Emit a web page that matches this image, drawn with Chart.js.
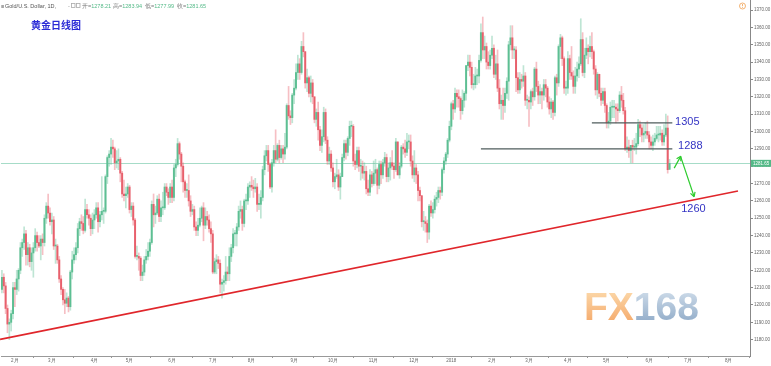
<!DOCTYPE html>
<html>
<head>
<meta charset="utf-8">
<script src="https://cdn.jsdelivr.net/npm/chart.js@4.4.1/dist/chart.umd.min.js"></script>
<style>
  html, body { margin: 0; padding: 0; background: #fff; }
</style>
</head>
<body>
<canvas id="chart" width="771" height="366"></canvas>
<script>
// Daily gold candles, 2017-01-23 .. 2018-06-18 (one row per month)
const opens = [
  1209,1216,1211,1198,1189,1190,1195,
  1210,1209,1215,1220,1233,1236,1241,1229,1233,1225,1230,1233,1240,1236,1234,1238,1236,1250,1257,1253,
  1248,1249,1234,1234,1226,1215,1209,1203,1201,1204,1199,1219,1226,1229,1233,1244,1248,1247,1243,1255,1252,1250,1244,
  1249,1252,1256,1248,1252,1254,1254,1274,1285,1287,1291,1290,1282,1283,1284,1276,1264,1263,1264,
  1268,1255,1257,1249,1228,1228,1227,1217,1219,1226,1228,1231,1236,1258,1252,1253,1261,1251,1256,1256,1268,1265,1262,
  1268,1262,1279,1281,1293,1287,1280,1271,1266,1266,1260,1254,1255,1245,1243,1246,1250,1256,1246,1251,1249,1244,
  1241,1219,1225,1226,1224,1212,1213,1214,1219,1218,1228,1233,1241,1241,1245,1254,1255,1247,1260,1260,1268,
  1269,1268,1267,1268,1258,1258,1262,1278,1286,1289,1281,1268,1282,1289,1284,1292,1285,1290,1287,1291,1315,1309,1308,
  1321,1325,1334,1339,1334,1349,1346,1328,1331,1322,1328,1320,1307,1311,1301,1292,1297,1311,1295,1283,1287,
  1279,1271,1274,1275,1268,1274,1285,1293,1288,1296,1303,1303,1283,1281,1289,1280,1280,1276,1277,1267,1265,1275,
  1270,1276,1278,1269,1281,1275,1282,1285,1274,1279,1282,1280,1278,1294,1275,1280,1291,1290,1288,1294,1294,1283,
  1275,1279,1275,1266,1263,1248,1248,1247,1242,1257,1253,1255,1261,1262,1266,1265,1278,1283,1287,1295,
  1303,1316,1313,1322,1320,1319,1312,1318,1322,1338,1340,1337,1327,1327,1332,1332,1341,1357,1347,1349,1340,1338,
  1344,1348,1333,1339,1325,1316,1318,1315,1322,1329,1350,1354,1347,1347,1331,1324,1330,1329,1332,1318,
  1318,1317,1323,1320,1336,1326,1321,1323,1321,1327,1325,1317,1313,1317,1311,1331,1328,1349,1354,1342,1325,
  1325,1342,1334,1332,1326,1332,1336,1339,1353,1334,1344,1348,1346,1349,1346,1336,1324,1333,1322,1318,1323,
  1315,1305,1306,1314,1314,1314,1313,1312,1321,1318,1312,1290,1291,1289,1292,1291,1291,1293,1304,1302,1298,1299,1300,
  1298,1294,1292,1294,1296,1298,1298,1299,1294,1298,1302,1278.21
];
const highs = [
  1220,1218,1213,1200,1192,1197,1213,
  1213,1220,1221,1236,1238,1245,1243,1236,1235,1233,1236,1244,1242,1240,1240,1241,1252,1259,1264,1256,
  1253,1251,1238,1235,1228,1217,1210,1209,1207,1205,1220,1231,1233,1236,1247,1250,1252,1251,1261,1258,1255,1252,1253,
  1255,1259,1259,1254,1274,1256,1275,1286,1289,1296,1295,1291,1289,1290,1285,1277,1272,1268,1270,
  1269,1259,1259,1250,1234,1230,1228,1223,1228,1232,1236,1238,1260,1264,1257,1263,1264,1260,1265,1270,1270,1267,1270,
  1272,1281,1284,1296,1294,1288,1282,1272,1270,1275,1263,1258,1257,1248,1250,1256,1257,1259,1256,1254,1252,1248,
  1243,1227,1229,1228,1226,1215,1217,1228,1222,1233,1235,1244,1243,1247,1257,1260,1257,1261,1264,1270,1271,
  1274,1272,1273,1270,1264,1266,1280,1289,1292,1292,1282,1284,1292,1301,1293,1295,1292,1292,1299,1316,1326,1312,1322,
  1330,1339,1344,1342,1352,1357,1346,1336,1332,1332,1330,1320,1313,1317,1303,1301,1314,1313,1297,1291,1289,
  1282,1276,1284,1278,1276,1287,1295,1295,1297,1306,1306,1304,1287,1291,1291,1284,1283,1282,1280,1272,1278,1277,
  1283,1284,1279,1283,1283,1284,1288,1287,1282,1285,1289,1282,1296,1294,1282,1292,1293,1295,1299,1298,1298,1286,
  1289,1281,1277,1268,1263,1254,1251,1249,1258,1260,1259,1263,1265,1268,1268,1279,1285,1288,1296,1306,
  1317,1318,1325,1324,1324,1320,1324,1323,1338,1344,1344,1340,1333,1337,1336,1344,1362,1366,1355,1351,1346,1347,
  1355,1350,1344,1347,1330,1321,1325,1325,1331,1352,1361,1361,1349,1349,1334,1334,1333,1338,1334,1321,
  1320,1324,1325,1337,1340,1329,1327,1325,1330,1330,1326,1320,1319,1318,1332,1333,1350,1356,1355,1343,1329,
  1346,1344,1349,1335,1337,1340,1343,1365,1357,1348,1354,1350,1355,1357,1347,1338,1334,1333,1325,1325,1325,
  1316,1311,1317,1318,1318,1316,1316,1323,1326,1322,1314,1297,1295,1292,1295,1296,1299,1307,1306,1304,1304,1305,1306,
  1300,1297,1298,1299,1303,1303,1303,1301,1304,1310,1309,1283.94
];
const lows = [
  1207,1207,1195,1184,1180,1185,1192,
  1199,1206,1208,1218,1228,1232,1223,1223,1222,1220,1216,1231,1231,1233,1226,1229,1234,1247,1250,1246,
  1241,1232,1224,1224,1213,1206,1200,1195,1199,1196,1197,1215,1224,1226,1230,1240,1243,1241,1242,1250,1246,1240,1241,
  1244,1250,1242,1245,1249,1247,1253,1270,1280,1281,1285,1278,1279,1278,1271,1262,1260,1256,1262,
  1253,1251,1246,1227,1226,1220,1214,1214,1217,1224,1226,1228,1235,1245,1247,1252,1248,1248,1252,1255,1263,1258,1259,
  1259,1260,1274,1280,1284,1271,1265,1262,1262,1257,1251,1252,1243,1240,1240,1245,1248,1237,1244,1246,1242,1236,
  1218,1218,1218,1221,1207,1204,1208,1212,1214,1214,1225,1230,1234,1234,1243,1250,1243,1245,1255,1258,1262,
  1266,1262,1265,1254,1255,1250,1260,1275,1283,1277,1267,1265,1280,1282,1283,1282,1284,1282,1284,1290,1307,1304,1305,
  1316,1324,1330,1330,1333,1343,1325,1323,1320,1317,1316,1305,1303,1295,1289,1288,1294,1293,1281,1281,1277,
  1268,1267,1273,1266,1261,1274,1283,1284,1286,1292,1297,1280,1278,1279,1277,1272,1273,1272,1264,1263,1263,1268,
  1269,1270,1264,1267,1270,1273,1280,1271,1271,1272,1278,1273,1277,1275,1273,1279,1287,1285,1286,1290,1280,1273,
  1271,1270,1260,1260,1245,1243,1242,1236,1238,1251,1250,1253,1257,1259,1261,1263,1276,1281,1285,1294,
  1301,1307,1311,1314,1314,1307,1310,1314,1318,1335,1332,1325,1324,1325,1327,1328,1340,1342,1342,1336,1336,1336,
  1342,1331,1330,1323,1313,1307,1307,1311,1319,1318,1347,1342,1342,1323,1322,1322,1325,1326,1315,1313,
  1303,1313,1315,1318,1323,1316,1316,1313,1318,1320,1314,1310,1308,1307,1309,1321,1326,1342,1338,1322,1321,
  1322,1330,1330,1322,1322,1329,1331,1338,1332,1331,1342,1339,1343,1342,1333,1321,1319,1320,1315,1316,1311,
  1302,1302,1304,1308,1308,1305,1306,1311,1314,1310,1289,1288,1285,1282,1282,1289,1287,1292,1297,1294,1294,1296,1296,
  1290,1290,1289,1292,1295,1294,1295,1292,1292,1297,1276,1277.99
];
const closes = [
  1216,1211,1198,1189,1190,1195,1210,
  1209,1215,1220,1233,1236,1241,1229,1233,1225,1230,1233,1240,1236,1234,1238,1236,1250,1257,1253,1248,
  1249,1234,1234,1226,1215,1209,1203,1201,1204,1199,1219,1226,1229,1233,1244,1248,1247,1243,1255,1252,1250,1244,1249,
  1252,1256,1248,1252,1254,1254,1274,1285,1287,1291,1290,1282,1283,1284,1276,1264,1263,1264,1268,
  1255,1257,1249,1228,1228,1227,1217,1219,1226,1228,1231,1236,1258,1252,1253,1261,1251,1256,1256,1268,1265,1262,1268,
  1262,1279,1281,1293,1287,1280,1271,1266,1266,1260,1254,1255,1245,1243,1246,1250,1256,1246,1251,1249,1244,1241,
  1219,1225,1226,1224,1212,1213,1214,1219,1218,1228,1233,1241,1241,1245,1254,1255,1247,1260,1260,1268,1269,
  1268,1267,1268,1258,1258,1262,1278,1286,1289,1281,1268,1282,1289,1284,1292,1285,1290,1287,1291,1315,1309,1308,1321,
  1325,1334,1339,1334,1349,1346,1328,1331,1322,1328,1320,1307,1311,1301,1292,1297,1311,1295,1283,1287,1279,
  1271,1274,1275,1268,1274,1285,1293,1288,1296,1303,1303,1283,1281,1289,1280,1280,1276,1277,1267,1265,1275,1270,
  1276,1278,1269,1281,1275,1282,1285,1274,1279,1282,1280,1278,1294,1275,1280,1291,1290,1288,1294,1294,1283,1275,
  1279,1275,1266,1263,1248,1248,1247,1242,1257,1253,1255,1261,1262,1266,1265,1278,1283,1287,1295,1303,
  1316,1313,1322,1320,1319,1312,1318,1322,1338,1340,1337,1327,1327,1332,1332,1341,1357,1347,1349,1340,1338,1344,
  1348,1333,1339,1325,1316,1318,1315,1322,1329,1350,1354,1347,1347,1331,1324,1330,1329,1332,1318,1318,
  1317,1323,1320,1336,1326,1321,1323,1321,1327,1325,1317,1313,1317,1311,1331,1328,1349,1354,1342,1325,1325,
  1342,1334,1332,1326,1332,1336,1339,1353,1334,1344,1348,1346,1349,1346,1336,1324,1333,1322,1318,1323,1315,
  1305,1306,1314,1314,1314,1313,1312,1321,1318,1312,1290,1291,1289,1292,1291,1291,1293,1304,1302,1298,1299,1300,1298,
  1294,1292,1294,1296,1298,1298,1299,1294,1298,1302,1278,1281.65
];

// bar slots on the time axis (trading days incl. empty future space)
const slotCount = 405;
const monthLabels = ['2月','3月','4月','5月','6月','7月','8月','9月','10月','11月','12月','2018','2月','3月','4月','5月','6月','7月','8月'];
const monthStarts = [7,27,50,69,92,114,135,158,179,201,223,243,265,285,306,327,350,371,393];
const priceTicks = [1180,1190,1200,1210,1220,1230,1240,1250,1260,1270,1280,1290,1300,1310,1320,1330,1340,1350,1360,1370];
const lastPrice = 1281.65;

// drawn annotations: trend line, levels, arrows, notes
const trendIdx = [-1, 398];
const trendVal = [1180.2, 1265.7];
const levelVals = [1305, 1290];
const levelFrom = [319, 259];
const levelTo = [362.5, 362.5];
const arrowIdx = [[363.5, 367.1], [367.1, 374.3]];
const arrowVal = [[1278.9, 1285.8], [1285.2, 1262.4]];
const noteText = ['1305', '1288', '1260'];
const noteIdx = [364, 365.6, 367.3];
const noteVal = [1305.4, 1291.6, 1255.3];

const UP = '#5dbf93', DOWN = '#e8606c';
const isUp = i => closes[i] >= opens[i];

Chart.defaults.font.family = "'Liberation Sans', Arial, sans-serif";

function arrow(ctx, x0, y0, x1, y1) {
  ctx.beginPath();
  ctx.moveTo(x0, y0);
  ctx.lineTo(x1, y1);
  ctx.stroke();
  const a = Math.atan2(y1 - y0, x1 - x0);
  ctx.beginPath();
  ctx.moveTo(x1, y1);
  ctx.lineTo(x1 - 5 * Math.cos(a - 0.5), y1 - 5 * Math.sin(a - 0.5));
  ctx.moveTo(x1, y1);
  ctx.lineTo(x1 - 5 * Math.cos(a + 0.5), y1 - 5 * Math.sin(a + 0.5));
  ctx.stroke();
}

const overlay = {
  id: 'overlay',
  beforeDatasetsDraw(chart) {
    const { ctx, chartArea: a, scales: { y } } = chart;
    ctx.save();
    // watermark
    ctx.font = "600 39px 'Liberation Sans', Arial, sans-serif";
    ctx.textBaseline = 'alphabetic';
    let g = ctx.createLinearGradient(0, 290, 0, 320);
    g.addColorStop(0, '#fbcf95');
    g.addColorStop(1, '#f39a4e');
    ctx.fillStyle = g;
    ctx.globalAlpha = 0.8;
    ctx.fillText('FX', 584, 320);
    const w = ctx.measureText('FX').width;
    g = ctx.createLinearGradient(0, 290, 0, 320);
    g.addColorStop(0, '#c2d3e4');
    g.addColorStop(1, '#7d9dbf');
    ctx.fillStyle = g;
    ctx.fillText('168', 584 + w, 320);
    ctx.globalAlpha = 1;
    // last price line
    const py = Math.round(y.getPixelForValue(lastPrice)) + 0.5;
    ctx.strokeStyle = '#a6dcc8';
    ctx.lineWidth = 1;
    ctx.beginPath();
    ctx.moveTo(a.left, py);
    ctx.lineTo(a.right, py);
    ctx.stroke();
    ctx.restore();
  },
  afterDatasetsDraw(chart) {
    const { ctx, scales: { x, y } } = chart;
    ctx.save();
    // rising support line
    ctx.strokeStyle = '#e0262b';
    ctx.lineWidth = 1.6;
    ctx.beginPath();
    ctx.moveTo(x.getPixelForValue(trendIdx[0]), y.getPixelForValue(trendVal[0]));
    ctx.lineTo(x.getPixelForValue(trendIdx[1]), y.getPixelForValue(trendVal[1]));
    ctx.stroke();
    // horizontal levels
    ctx.strokeStyle = '#4f5d5d';
    ctx.lineWidth = 1.3;
    levelVals.forEach((v, i) => {
      const py = y.getPixelForValue(v);
      ctx.beginPath();
      ctx.moveTo(x.getPixelForValue(levelFrom[i]), py);
      ctx.lineTo(x.getPixelForValue(levelTo[i]), py);
      ctx.stroke();
    });
    // green arrows
    ctx.strokeStyle = '#2ecc2e';
    ctx.lineWidth = 1.2;
    arrowIdx.forEach((ix, i) => {
      arrow(ctx, x.getPixelForValue(ix[0]), y.getPixelForValue(arrowVal[i][0]),
        x.getPixelForValue(ix[1]), y.getPixelForValue(arrowVal[i][1]));
    });
    // notes
    ctx.fillStyle = '#3434c4';
    ctx.font = "11px 'Liberation Sans', Arial, sans-serif";
    ctx.textBaseline = 'middle';
    noteText.forEach((t, i) => {
      ctx.fillText(t, x.getPixelForValue(noteIdx[i]), y.getPixelForValue(noteVal[i]));
    });
    ctx.restore();
  },
  afterDraw(chart) {
    const { ctx, chartArea: a, scales: { y } } = chart;
    ctx.save();
    // price tag on the axis
    const py = y.getPixelForValue(lastPrice);
    ctx.fillStyle = '#53b987';
    ctx.fillRect(a.right + 1, py - 3.5, 20, 7);
    ctx.fillStyle = '#fff';
    ctx.font = "4.5px 'Liberation Sans', Arial, sans-serif";
    ctx.textBaseline = 'middle';
    ctx.fillText(lastPrice.toFixed(2), a.right + 3, py);
    // header line
    ctx.font = "5.5px 'Liberation Sans', Arial, sans-serif";
    ctx.fillStyle = '#555';
    ctx.fillText('≡', 1, 6);
    ctx.fillText('Gold/U.S. Dollar, 1D,', 5, 6);
    ctx.fillStyle = '#999';
    ctx.fillText('-', 68, 6);
    ctx.strokeStyle = '#aaa';
    ctx.lineWidth = 0.8;
    ctx.strokeRect(71.5, 3.5, 3.5, 4);
    ctx.strokeRect(76.5, 3.5, 3.5, 4);
    const ohlc = [['开=', opens], ['高=', highs], ['低=', lows], ['收=', closes]];
    const xs = [82, 113, 145, 177];
    ohlc.forEach((p, i) => {
      ctx.fillStyle = '#777';
      ctx.fillText(p[0], xs[i], 6);
      const lw = ctx.measureText(p[0]).width;
      ctx.fillStyle = '#53b987';
      ctx.fillText(p[1][p[1].length - 1].toFixed(2), xs[i] + lw, 6);
    });
    // title
    ctx.font = "bold 10px 'Noto Sans CJK SC', sans-serif";
    ctx.fillStyle = '#2b2bd6';
    ctx.fillText('黄金日线图', 31, 25);
    // small alert icon top right
    ctx.strokeStyle = '#f0a050';
    ctx.lineWidth = 0.8;
    ctx.beginPath();
    ctx.arc(742.5, 6, 3, 0, Math.PI * 2);
    ctx.stroke();
    ctx.fillStyle = '#f0a050';
    ctx.fillRect(742.1, 4, 0.8, 2.2);
    ctx.fillRect(742.1, 7, 0.8, 0.8);
    ctx.restore();
  }
};

const slots = Array.from({ length: slotCount }, (_, i) => i);

new Chart(document.getElementById('chart'), {
  type: 'bar',
  data: {
    labels: slots,
    datasets: [
      {
        label: 'body',
        order: 0,
        data: opens.map((o, i) => [o, closes[i]]),
        backgroundColor: ctx => isUp(ctx.dataIndex) ? UP : DOWN,
        barThickness: 1.3,
        minBarLength: 1,
        grouped: false
      },
      {
        label: 'wick',
        order: 1,
        data: lows.map((l, i) => [l, highs[i]]),
        backgroundColor: ctx => isUp(ctx.dataIndex) ? 'rgba(93,191,147,0.4)' : 'rgba(232,96,108,0.4)',
        barThickness: 1,
        grouped: false
      }
    ]
  },
  options: {
    responsive: false,
    animation: false,
    events: [],
    layout: { padding: { left: 1, right: 0, top: 0, bottom: 0 } },
    plugins: { legend: { display: false }, tooltip: { enabled: false } },
    scales: {
      x: {
        offset: true,
        afterBuildTicks: s => { s.ticks = monthStarts.map(v => ({ value: v })); },
        afterFit: s => { s.height = 10; s.paddingLeft = 0; s.paddingRight = 0; },
        ticks: {
          autoSkip: false,
          maxRotation: 0,
          padding: 0,
          color: '#666',
          font: { size: 4.5 },
          callback: v => monthLabels[monthStarts.indexOf(v)]
        },
        grid: { display: true, drawOnChartArea: false, drawTicks: true, tickLength: 2, color: '#999' },
        border: { display: true, color: '#999' }
      },
      y: {
        position: 'right',
        min: 1170.6,
        max: 1375.8,
        afterBuildTicks: s => { s.ticks = priceTicks.map(v => ({ value: v })); },
        afterFit: s => { s.width = 21; s.paddingTop = 0; s.paddingBottom = 0; },
        ticks: {
          padding: 1,
          color: '#666',
          font: { size: 4.5 },
          callback: v => v.toFixed(2)
        },
        grid: { display: true, drawOnChartArea: false, drawTicks: true, tickLength: 3, color: '#888' },
        border: { display: true, color: '#888' }
      }
    }
  },
  plugins: [overlay]
});
</script>
</body>
</html>
